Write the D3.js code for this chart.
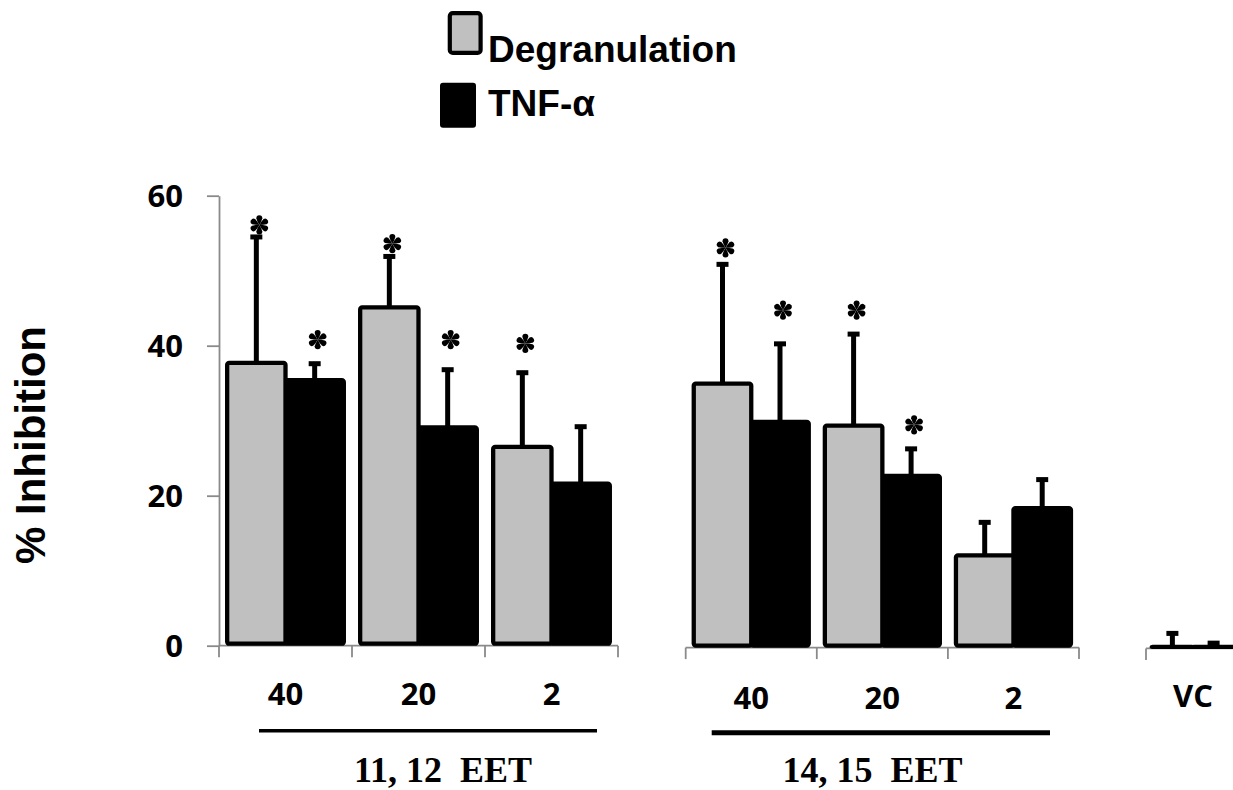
<!DOCTYPE html>
<html>
<head>
<meta charset="utf-8">
<script src="https://cdn.jsdelivr.net/npm/d3@7"></script>
<style>
  body { margin: 0; background: #fff; }
  svg { display: block; }
</style>
</head>
<body>
<svg id="chart" width="1233" height="790"></svg>
<script>
// ---- data -------------------------------------------------------------
const doses = ["40", "20", "2"];
const vcCategory = ["VC"];
const seriesNames = ["Degranulation", "TNF-α"];
const yTicks = [0, 20, 40, 60];

// 11,12-EET (% inhibition, mean and SD)
const eet1112Degran    = [37.7, 45.1, 26.5];
const eet1112DegranErr = [16.8, 6.8, 9.9];
const eet1112Tnf       = [35.4, 29.1, 21.6];
const eet1112TnfErr    = [2.2, 7.7, 7.6];

// 14,15-EET
const eet1415Degran    = [35.2, 29.6, 12.3];
const eet1415DegranErr = [15.9, 12.2, 4.4];
const eet1415Tnf       = [30.1, 22.9, 18.6];
const eet1415TnfErr    = [10.4, 3.6, 3.8];

// vehicle control
const vcDegran    = [0.2];
const vcDegranErr = [1.8];
const vcTnf       = [0.2];
const vcTnfErr    = [0.5];

// significance marks (height in % units, null = not significant)
const eet1112DegranSig = [56.1, 53.6, 40.3];
const eet1112TnfSig    = [40.8, 40.8, null];
const eet1415DegranSig = [53.3, 45.0, null];
const eet1415TnfSig    = [45.0, 29.7, null];
const vcDegranSig      = [null];
const vcTnfSig         = [null];

// ---- layout -----------------------------------------------------------
const svg = d3.select("#chart");
const AXIS_GREY = "#8a8a8a";
const BAR_GREY = "#c0c0c0";
const pxPerUnit = 7.5;
const tickFont = "'Open Sans', Lato, sans-serif";

// one teardrop petal of the six-petal asterisk, pointing up
function petalPath(r, a) {
  const h = r - a;
  return `M0,0 L${-a * 0.6},${-h * 0.5} L${-a},${-h} A${a},${a} 0 1 1 ${a},${-h} L${a * 0.6},${-h * 0.5} Z`;
}
const petal = petalPath(9.6, 3.0);

const panels = [
  {
    cats: doses, xRange: [219, 618], zero: 645.7, labelY: 705, yAxis: true,
    values: [eet1112Degran, eet1112Tnf], errs: [eet1112DegranErr, eet1112TnfErr],
    sig: [eet1112DegranSig, eet1112TnfSig],
    group: { text: "11, 12  EET", line: [259, 597], lineY: 730.7, lineW: 3.5, cx: 443, baseY: 782 }
  },
  {
    cats: doses, xRange: [685.7, 1079], zero: 647.6, labelY: 709, yAxis: false,
    values: [eet1415Degran, eet1415Tnf], errs: [eet1415DegranErr, eet1415TnfErr],
    sig: [eet1415DegranSig, eet1415TnfSig],
    group: { text: "14, 15  EET", line: [711.7, 1050], lineY: 732.7, lineW: 5, cx: 872.5, baseY: 782 }
  },
  {
    cats: vcCategory, xRange: [1146, 1240], zero: 648.4, labelY: 707, yAxis: false,
    values: [vcDegran, vcTnf], errs: [vcDegranErr, vcTnfErr],
    sig: [vcDegranSig, vcTnfSig],
    group: null
  }
];

panels.forEach(p => {
  const y = d3.scaleLinear().domain([0, 60]).range([p.zero, p.zero - 60 * pxPerUnit]);
  const x0 = d3.scaleBand().domain(p.cats).range(p.xRange).padding(0);
  const x1 = d3.scaleBand().domain(seriesNames).range([0, x0.bandwidth()])
    .paddingInner(0).paddingOuter(0.14);
  const g = svg.append("g");

  // x axis baseline and category boundary ticks
  const bounds = p.cats.map(c => x0(c)).concat([x0(p.cats[p.cats.length - 1]) + x0.bandwidth()]);
  g.append("line")
    .attr("x1", p.xRange[0]).attr("x2", p.xRange[1])
    .attr("y1", y(0)).attr("y2", y(0))
    .attr("stroke", AXIS_GREY).attr("stroke-width", 1.8);
  g.selectAll("line.ctick").data(bounds).join("line")
    .attr("class", "ctick")
    .attr("x1", d => d).attr("x2", d => d)
    .attr("y1", y(0)).attr("y2", y(0) + 11.5)
    .attr("stroke", AXIS_GREY).attr("stroke-width", 1.8);

  // y axis
  if (p.yAxis) {
    const ax = g.append("g")
      .attr("transform", `translate(${p.xRange[0]},0)`)
      .call(d3.axisLeft(y).tickValues(yTicks).tickSize(12).tickSizeOuter(0).tickPadding(24));
    ax.select(".domain").attr("stroke", AXIS_GREY).attr("stroke-width", 1.8);
    ax.selectAll(".tick line").attr("stroke", AXIS_GREY).attr("stroke-width", 1.8);
    ax.selectAll(".tick text")
      .attr("fill", "#000")
      .attr("dy", "0.36em")
      .style("font-family", tickFont)
      .style("font-weight", 700)
      .style("font-size", "31px");
  }

  // bars (TNF-α first so the grey outline sits on top)
  [1, 0].forEach(si => {
    const name = seriesNames[si];
    g.selectAll(`rect.s${si}`).data(p.cats).join("rect")
      .attr("class", `s${si}`)
      .attr("x", c => x0(c) + x1(name))
      .attr("width", x1.bandwidth())
      .attr("y", (c, i) => y(p.values[si][i]))
      .attr("height", (c, i) => Math.max(0.01, y(0) - 2 - y(p.values[si][i])))
      .attr("rx", 2)
      .attr("fill", si === 0 ? BAR_GREY : "#000")
      .attr("stroke", "#000")
      .attr("stroke-width", 4.3)
      .attr("stroke-linejoin", "round");
  });

  // error bars and significance asterisks
  seriesNames.forEach((name, si) => {
    p.cats.forEach((c, i) => {
      const cx = x0(c) + x1(name) + x1.bandwidth() / 2;
      const v = p.values[si][i], e = p.errs[si][i];
      g.append("line")
        .attr("x1", cx).attr("x2", cx)
        .attr("y1", y(v)).attr("y2", y(v + e))
        .attr("stroke", "#000").attr("stroke-width", 5);
      g.append("rect")
        .attr("x", cx - 6).attr("width", 12)
        .attr("y", y(v + e) - 2.5).attr("height", 5)
        .attr("fill", "#000");
      const s = p.sig[si][i];
      if (s != null) {
        const star = g.append("g").attr("transform", `translate(${cx + 3},${y(s)})`);
        star.selectAll("path").data(d3.range(6)).join("path")
          .attr("d", petal)
          .attr("transform", k => `rotate(${k * 60})`)
          .attr("fill", "#000");
      }
    });
  });

  // category labels
  g.selectAll("text.cat").data(p.cats).join("text")
    .attr("class", "cat")
    .attr("x", c => x0(c) + x0.bandwidth() / 2)
    .attr("y", p.labelY)
    .attr("text-anchor", "middle")
    .style("font-family", tickFont)
    .style("font-weight", 700)
    .style("font-size", "31px")
    .text(c => c);

  // compound bracket line and name
  if (p.group) {
    g.append("line")
      .attr("x1", p.group.line[0]).attr("x2", p.group.line[1])
      .attr("y1", p.group.lineY).attr("y2", p.group.lineY)
      .attr("stroke", "#000").attr("stroke-width", p.group.lineW);
    g.append("text")
      .attr("x", p.group.cx).attr("y", p.group.baseY)
      .attr("text-anchor", "middle")
      .style("white-space", "pre")
      .style("font-family", "'Liberation Serif', 'Times New Roman', serif")
      .style("font-weight", 700)
      .style("font-size", "36px")
      .text(p.group.text);
  }
});

// y axis title
svg.append("text")
  .attr("transform", "translate(45,445) rotate(-90)")
  .attr("text-anchor", "middle")
  .style("font-family", "'Liberation Sans', Arial, sans-serif")
  .style("font-weight", 700)
  .style("font-size", "42px")
  .text("% Inhibition");

// legend
const legend = svg.append("g");
legend.append("rect")
  .attr("x", 449.8).attr("y", 13.1).attr("width", 30.8).attr("height", 39.8)
  .attr("rx", 3).attr("fill", BAR_GREY).attr("stroke", "#000").attr("stroke-width", 4.2);
legend.append("rect")
  .attr("x", 440).attr("y", 82.7).attr("width", 36).attr("height", 45)
  .attr("rx", 3).attr("fill", "#000");
legend.selectAll("text.leg").data(seriesNames).join("text")
  .attr("class", "leg")
  .attr("x", 488)
  .attr("y", (d, i) => [61.7, 115.5][i])
  .style("font-family", "'Liberation Sans', Arial, sans-serif")
  .style("font-weight", 700)
  .style("font-size", "37px")
  .text(d => d);
</script>
</body>
</html>
